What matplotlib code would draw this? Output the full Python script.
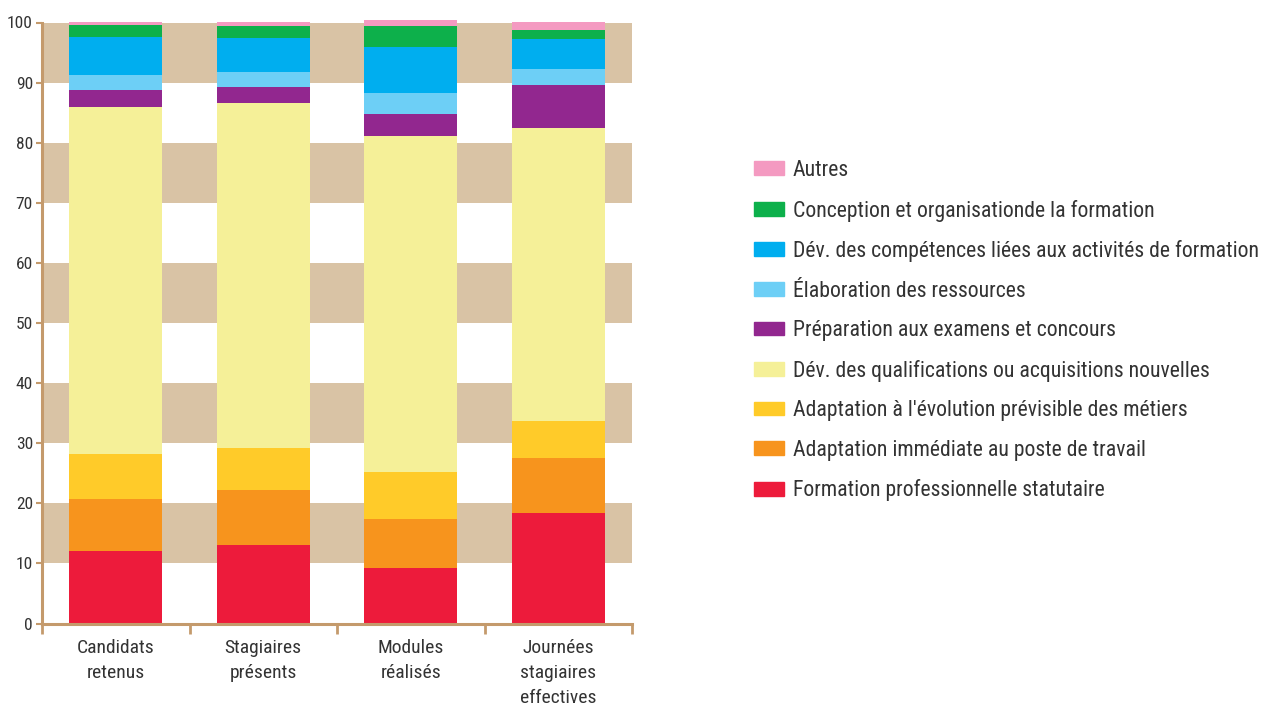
import matplotlib
matplotlib.use('Agg')
import matplotlib.pyplot as plt
import numpy as np
from matplotlib.patches import Patch

categories = ['Candidats\nretenus', 'Stagiaires\nprésents', 'Modules\nréalisés',
              'Journées\nstagiaires\neffectives']

series_names = [
    'Formation professionnelle statutaire',
    'Adaptation immédiate au poste de travail',
    "Adaptation à l'évolution prévisible des métiers",
    'Dév. des qualifications ou acquisitions nouvelles',
    'Préparation aux examens et concours',
    'Élaboration des ressources',
    'Dév. des compétences liées aux activités de formation',
    'Conception et organisationde la formation',
    'Autres',
]

# valeurs en %
formation_statutaire = [12.1, 13.0, 9.2, 18.4]
adaptation_immediate = [8.6, 9.2, 8.2, 9.1]
adaptation_evolution = [7.5, 7.0, 7.8, 6.2]
dev_qualifications = [57.7, 57.4, 55.9, 48.7]
preparation_examens = [2.9, 2.7, 3.7, 7.2]
elaboration_ressources = [2.5, 2.5, 3.5, 2.7]
dev_competences = [6.3, 5.7, 7.6, 5.0]
conception_organisation = [2.0, 2.0, 3.5, 1.5]
autres = [0.4, 0.5, 1.0, 1.2]

series_values = [formation_statutaire, adaptation_immediate, adaptation_evolution,
                 dev_qualifications, preparation_examens, elaboration_ressources,
                 dev_competences, conception_organisation, autres]

colors = ['#ED1B3B', '#F7941D', '#FFCB29', '#F5F098', '#92278F',
          '#6DCFF6', '#00AEEF', '#0DB04B', '#F49AC1']

tan = '#D9C3A5'
axis_col = '#C49A6C'
text_col = '#333333'

plt.rcParams['font.family'] = ['Roboto Condensed', 'DejaVu Sans']

fig = plt.figure(figsize=(12.66, 7.05), dpi=100)
ax = fig.add_axes([42 / 1266, 1 - 623.5 / 705, 590 / 1266, 601 / 705])

# bandes de fond
for lo in [10, 30, 50, 70, 90]:
    ax.axhspan(lo, lo + 10, color=tan, lw=0, zorder=0)

x = np.arange(len(categories))
bottom = np.zeros(len(categories))
for name, vals, c in zip(series_names, series_values, colors):
    ax.bar(x, vals, 0.63, bottom=bottom, color=c, label=name, zorder=2, clip_on=False)
    bottom += np.array(vals)

ax.set_xlim(-0.5, 3.5)
ax.set_ylim(0, 100)
ax.set_yticks(range(0, 101, 10))
ax.set_xticks(x)
ax.set_xticklabels(categories, fontsize=14, color=text_col, linespacing=1.5)
ax.set_xticks(np.arange(-0.5, 4, 1), minor=True)
ax.tick_params(axis='x', which='major', length=0, pad=11)
ax.tick_params(axis='x', which='minor', length=7.5, width=2, color=axis_col, direction='out')
ax.tick_params(axis='y', length=4.5, width=1.5, color=axis_col, labelsize=12.5,
               labelcolor=text_col, pad=2)

for s in ['top', 'right']:
    ax.spines[s].set_visible(False)
for s in ['left', 'bottom']:
    ax.spines[s].set_color(axis_col)
    ax.spines[s].set_linewidth(2.2)
    ax.spines[s].set_zorder(3)

handles = [Patch(color=c) for c in colors][::-1]
fig.legend(handles, series_names[::-1], loc='upper left',
           bbox_to_anchor=(754 / 1266, 1 - 160 / 705), frameon=False,
           fontsize=15.7, handlelength=1.39, handleheight=0.6, handletextpad=0.4,
           labelspacing=0.85, labelcolor=text_col, borderpad=0, borderaxespad=0)

fig.savefig('out.png', dpi=100)
